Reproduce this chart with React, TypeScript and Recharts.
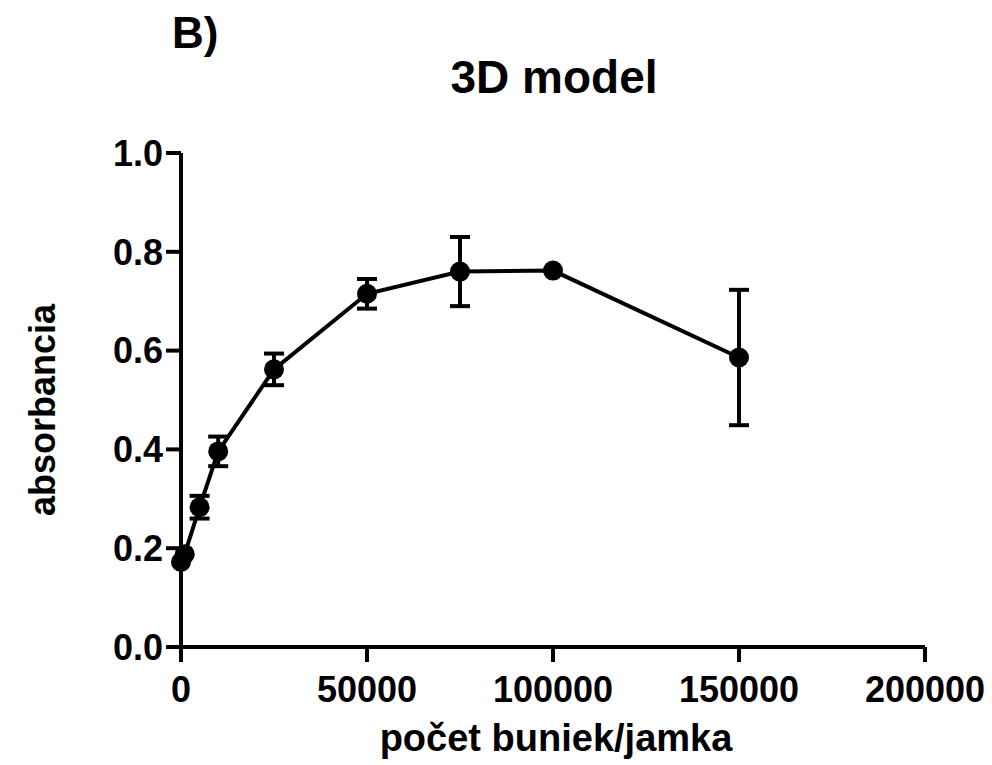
import React from 'react';
import { LineChart, Line, XAxis, YAxis, ErrorBar, Label } from 'recharts';

// cells seeded per well
const cellCounts = [0, 1000, 5000, 10000, 25000, 50000, 75000, 100000, 150000];
// mean absorbance
const absorbance = [0.172, 0.188, 0.283, 0.396, 0.562, 0.715, 0.76, 0.762, 0.586];
// SD (symmetric)
const sd = [0, 0, 0.023, 0.03, 0.032, 0.03, 0.07, 0, 0.137];

const xTicks = [0, 50000, 100000, 150000, 200000];
const yTicks = [0, 0.2, 0.4, 0.6, 0.8, 1.0];

const data = cellCounts.map((c, i) => ({ cells: c, abs: absorbance[i], sd: sd[i] }));

const FONT = '"Liberation Sans", Arial, sans-serif';
const W = 976;
const H = 757;

const tickStyle = { fill: '#000', fontSize: 36, fontWeight: 700, fontFamily: FONT };
const lineStyle = { stroke: '#000', strokeWidth: 4 };

const App: React.FC = () => {
  return (
    <div style={{ position: 'relative', width: W, height: H }}>
      <LineChart
        width={W}
        height={H}
        data={data}
        margin={{ top: 145, right: 59, bottom: 0, left: 0 }}
      >
        <XAxis
          dataKey="cells"
          type="number"
          domain={[0, 200000]}
          ticks={xTicks}
          interval={0}
          height={118}
          tickSize={15}
          tickMargin={14}
          axisLine={lineStyle}
          tickLine={lineStyle}
          tick={tickStyle}
        >
          <Label
            content={({ viewBox }: any) => (
              <text
                x={viewBox.x + viewBox.width / 2 + 3}
                y={viewBox.y + 104}
                textAnchor="middle"
                fontSize={38}
                fontWeight={700}
                fontFamily={FONT}
                fill="#000"
              >
                počet buniek/jamka
              </text>
            )}
          />
        </XAxis>
        <YAxis
          type="number"
          domain={[0, 1]}
          ticks={yTicks}
          interval={0}
          width={173}
          tickSize={15}
          tickMargin={3}
          axisLine={lineStyle}
          tickLine={lineStyle}
          tick={tickStyle}
          tickFormatter={(v: number) => v.toFixed(1)}
        >
          <Label
            content={({ viewBox }: any) => {
              const x = viewBox.x + 47;
              const y = viewBox.y + viewBox.height / 2 + 10;
              return (
                <text
                  x={x}
                  y={y}
                  transform={`rotate(-90, ${x}, ${y})`}
                  textAnchor="middle"
                  fontSize={36}
                  fontWeight={700}
                  fontFamily={FONT}
                  fill="#000"
                >
                  absorbancia
                </text>
              );
            }}
          />
        </YAxis>
        <Line
          dataKey="abs"
          type="linear"
          stroke="#000"
          strokeWidth={4}
          dot={{ r: 10, fill: '#000', stroke: '#000', strokeWidth: 0 }}
          activeDot={false}
          isAnimationActive={false}
        >
          <ErrorBar dataKey="sd" direction="y" width={10} stroke="#000" strokeWidth={4} />
        </Line>
      </LineChart>
      <svg
        width={W}
        height={H}
        style={{ position: 'absolute', left: 0, top: 0, pointerEvents: 'none' }}
      >
        <text x={164} y={40} fontSize={44} fontWeight={700} fontFamily={FONT} fill="#000">
          B)
        </text>
        <text
          x={546}
          y={85}
          textAnchor="middle"
          fontSize={46}
          fontWeight={700}
          fontFamily={FONT}
          fill="#000"
        >
          3D model
        </text>
      </svg>
    </div>
  );
};

export default App;
